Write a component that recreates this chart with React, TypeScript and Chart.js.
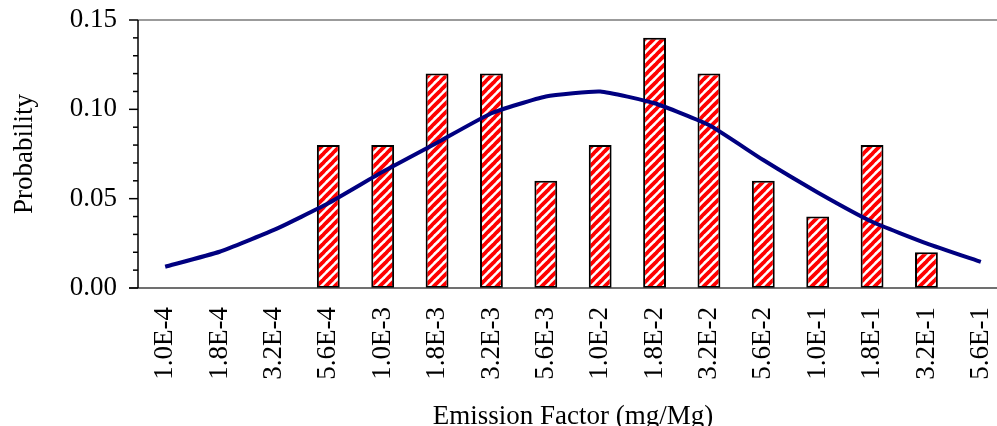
import React, { useEffect, useRef } from "react";
import { Chart, registerables } from "chart.js";

Chart.register(...registerables);

const categories = [
  "1.0E-4", "1.8E-4", "3.2E-4", "5.6E-4", "1.0E-3", "1.8E-3", "3.2E-3", "5.6E-3",
  "1.0E-2", "1.8E-2", "3.2E-2", "5.6E-2", "1.0E-1", "1.8E-1", "3.2E-1", "5.6E-1",
];
const observedProbability = [0, 0, 0, 0.08, 0.08, 0.12, 0.12, 0.06, 0.08, 0.14, 0.12, 0.06, 0.04, 0.08, 0.02, 0];
const fittedProbability = [
  0.0119, 0.0203, 0.0325, 0.0474, 0.065, 0.0813, 0.0978, 0.1072, 0.1100, 0.1034,
  0.0912, 0.0716, 0.0535, 0.0371, 0.025, 0.0146,
];
const yTickValues = [0, 0.05, 0.1, 0.15];

const FONT = "'Liberation Serif', 'Times New Roman', serif";

function makeHatch(ctx: CanvasRenderingContext2D): CanvasPattern | string {
  const s = 9;
  const c = document.createElement("canvas");
  c.width = s;
  c.height = s;
  const g = c.getContext("2d");
  if (!g) return "red";
  g.fillStyle = "#ffffff";
  g.fillRect(0, 0, s, s);
  g.strokeStyle = "#ff0000";
  g.lineWidth = 3.8;
  for (const o of [-s, 0, s]) {
    g.beginPath();
    g.moveTo(o - 1, s + 1);
    g.lineTo(o + s + 1, -1);
    g.stroke();
  }
  return ctx.createPattern(c, "repeat") || "red";
}

const framePlugin = {
  id: "framePlugin",
  afterDatasetsDraw(chart: any) {
    const { ctx, chartArea } = chart;
    const { left, right, top, bottom } = chartArea;
    const y = chart.scales.y;
    ctx.save();
    ctx.lineCap = "butt";
    ctx.strokeStyle = "#7a7a7a";
    ctx.lineWidth = 1.5;
    ctx.beginPath();
    ctx.moveTo(left, top);
    ctx.lineTo(right, top);
    ctx.stroke();
    ctx.strokeStyle = "#404040";
    ctx.beginPath();
    ctx.moveTo(left - 9, bottom);
    ctx.lineTo(right, bottom);
    ctx.stroke();
    ctx.strokeStyle = "#000000";
    ctx.beginPath();
    ctx.moveTo(left, top);
    ctx.lineTo(left, bottom);
    ctx.stroke();
    for (let i = 0; i <= 15; i++) {
      const py = y.getPixelForValue(i / 100);
      const len = i % 5 === 0 ? 9 : 5;
      ctx.beginPath();
      ctx.moveTo(left - len, py);
      ctx.lineTo(left, py);
      ctx.stroke();
    }
    ctx.restore();
  },
};

export default function App() {
  const ref = useRef<HTMLCanvasElement | null>(null);
  useEffect(() => {
    const canvas = ref.current;
    if (!canvas) return;
    const ctx = canvas.getContext("2d");
    if (!ctx) return;
    const hatch = makeHatch(ctx);
    const chart = new Chart(ctx, {
      type: "bar",
      data: {
        labels: categories,
        datasets: [
          {
            type: "line",
            data: fittedProbability,
            borderColor: "#000080",
            borderWidth: 4,
            pointRadius: 0,
            tension: 0.15,
            fill: false,
            order: 0,
          } as any,
          {
            type: "bar",
            data: observedProbability,
            backgroundColor: hatch as any,
            borderColor: "#000000",
            borderWidth: 2,
            borderSkipped: false,
            barPercentage: 0.42,
            categoryPercentage: 1,
            order: 1,
          } as any,
        ],
      },
      options: {
        animation: false,
        responsive: false,
        layout: { padding: { top: 20, right: 2, left: 0, bottom: 0 } },
        plugins: { legend: { display: false }, tooltip: { enabled: false } },
        scales: {
          x: {
            grid: { display: false, drawTicks: false },
            border: { display: false },
            ticks: {
              autoSkip: false,
              maxRotation: 90,
              minRotation: 90,
              padding: 19,
              color: "#000",
              font: { family: FONT, size: 27 },
            },
            title: {
              display: true,
              text: "Emission Factor (mg/Mg)",
              color: "#000",
              font: { family: FONT, size: 27, lineHeight: 1 },
              padding: { top: 0, bottom: -4 },
            },
            afterFit: (scale: any) => {
              scale.height = 138;
              scale.paddingLeft = 0;
              scale.paddingRight = 0;
            },
          },
          y: {
            min: 0,
            max: 0.15,
            afterBuildTicks: (scale: any) => {
              scale.ticks = yTickValues.map((v) => ({ value: v }));
            },
            grid: { display: false, drawTicks: true, tickLength: 9 },
            border: { display: false },
            ticks: {
              padding: 12,
              color: "#000",
              font: { family: FONT, size: 27 },
              callback: (v: any) => Number(v).toFixed(2),
            },
            title: {
              display: true,
              text: "Probability",
              color: "#000",
              font: { family: FONT, size: 27, lineHeight: 1 },
              padding: { top: 11.5, bottom: 0 },
            },
            afterFit: (scale: any) => {
              scale.width = 138;
              scale.paddingTop = 0;
              scale.paddingBottom = 0;
            },
          },
        },
      },
      plugins: [framePlugin],
    });
    return () => chart.destroy();
  }, []);
  return (
    <div style={{ position: "absolute", left: 0, top: 0, width: 997, height: 426, overflow: "hidden", background: "#fff" }}>
      <canvas ref={ref} width={1010} height={426} style={{ width: 1010, height: 426, display: "block" }} />
    </div>
  );
}
